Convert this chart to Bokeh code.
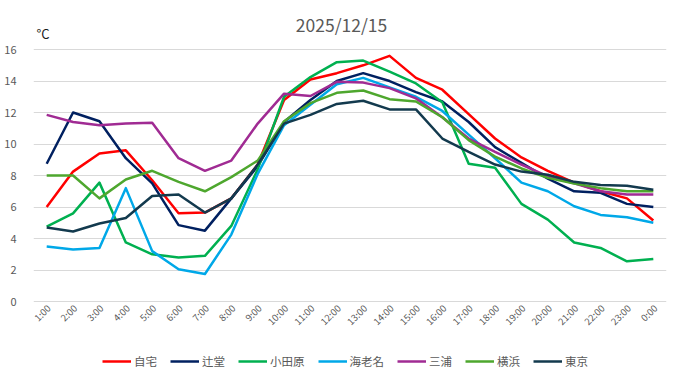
from bokeh.plotting import figure
from bokeh.models import Legend, LegendItem, Label, FixedTicker, FactorRange, Range1d
from bokeh.core.properties import value
from bokeh.embed import file_html
from bokeh.resources import INLINE
from math import pi

hours = ["1:00", "2:00", "3:00", "4:00", "5:00", "6:00", "7:00", "8:00", "9:00", "10:00",
         "11:00", "12:00", "13:00", "14:00", "15:00", "16:00", "17:00", "18:00", "19:00",
         "20:00", "21:00", "22:00", "23:00", "0:00"]

jitaku = [6.0, 8.25, 9.4, 9.6, 7.7, 5.6, 5.65, 6.55, 8.7, 12.8, 14.1, 14.5, 15.0, 15.6, 14.2,
          13.45, 11.9, 10.35, 9.15, 8.3, 7.55, 7.0, 6.55, 5.15]
tsujido = [8.75, 12.0, 11.45, 9.1, 7.5, 4.85, 4.5, 6.55, 8.6, 11.4, 12.8, 14.0, 14.5, 14.0, 13.3,
           12.7, 11.4, 9.8, 8.8, 7.8, 7.0, 6.9, 6.2, 6.0]
odawara = [4.75, 5.6, 7.55, 3.75, 3.0, 2.8, 2.9, 4.8, 8.4, 13.0, 14.25, 15.2, 15.3, 14.6, 13.85,
           12.65, 8.75, 8.5, 6.2, 5.2, 3.75, 3.4, 2.55, 2.7]
ebina = [3.5, 3.3, 3.4, 7.2, 3.2, 2.05, 1.75, 4.25, 8.1, 11.2, 12.5, 13.8, 14.2, 13.6, 13.0,
         12.1, 10.6, 9.1, 7.55, 7.0, 6.05, 5.5, 5.35, 5.0]
miura = [11.85, 11.4, 11.2, 11.3, 11.35, 9.1, 8.3, 8.95, 11.3, 13.2, 13.05, 13.95, 13.9, 13.55,
         12.9, 11.7, 10.35, 9.5, 8.7, 7.95, 7.5, 7.0, 6.8, 6.8]
yokohama = [8.0, 8.0, 6.55, 7.75, 8.3, 7.6, 7.0, 7.9, 8.95, 11.45, 12.6, 13.25, 13.4, 12.85, 12.7,
            11.7, 10.25, 9.2, 8.45, 7.85, 7.5, 7.2, 7.0, 7.0]
tokyo = [4.7, 4.45, 4.95, 5.3, 6.7, 6.8, 5.65, 6.55, 8.7, 11.3, 11.85, 12.55, 12.75, 12.2, 12.2,
         10.35, 9.5, 8.7, 8.25, 8.05, 7.6, 7.4, 7.35, 7.1]

names = ["自宅", "辻堂", "小田原", "海老名", "三浦", "横浜", "東京"]
series = [jitaku, tsujido, odawara, ebina, miura, yokohama, tokyo]
colors = ["#FF0000", "#002060", "#00B050", "#00A8E8", "#A02B93", "#4EA72E", "#133A4E"]
y_ticks = [0, 2, 4, 6, 8, 10, 12, 14, 16]
title_text = "2025/12/15"
unit_text = "°C"

FONT = "Noto Sans CJK JP"
GRAY = "#595959"

p = figure(frame_width=633, frame_height=367,
           x_range=FactorRange(*hours, range_padding=0),
           y_range=Range1d(-4.825, 18.48), output_backend="svg", toolbar_location=None,
           min_border_left=33, min_border_right=13, min_border_top=10, min_border_bottom=0)
p.outline_line_color = None
p.background_fill_color = "white"
p.border_fill_color = "white"

p.xgrid.grid_line_color = None
p.ygrid.grid_line_color = "#D9D9D9"
p.ygrid.grid_line_width = 1
p.yaxis.ticker = FixedTicker(ticks=y_ticks)
p.yaxis.axis_line_color = None
p.yaxis.major_tick_line_color = None
p.yaxis.minor_tick_line_color = None
p.yaxis.major_label_text_font = FONT
p.yaxis.major_label_text_font_size = "11px"
p.yaxis.major_label_text_color = GRAY
p.yaxis.major_label_standoff = 11

p.xaxis.visible = False

# category labels, drawn through the categorical scale
p.text(x=hours, y=[-0.3] * len(hours), text=hours, angle=pi / 4,
       text_align="right", text_baseline="middle", x_offset=2,
       text_font=value(FONT), text_font_size="9.5px", text_color=GRAY)

items = []
for name, vals, col in zip(names, series, colors):
    r = p.line(hours, vals, line_color=col, line_width=2.5, line_join="round")
    items.append(LegendItem(label=name, renderers=[r]))

legend = Legend(items=items, orientation="horizontal", location=(69, 8),
                label_text_font=FONT, label_text_font_size="11.5px", label_text_color=GRAY,
                glyph_width=29, glyph_height=12, label_standoff=3, spacing=13,
                padding=2, margin=0, border_line_color=None, background_fill_alpha=0)
p.add_layout(legend, "center")

p.add_layout(Label(x=11.68, y=17.59, text=title_text, text_font=FONT,
                   text_font_size="17.5px", text_color=GRAY,
                   text_align="center", text_baseline="middle"))
p.add_layout(Label(x=0.11, y=17.05, text=unit_text, text_font=FONT,
                   text_font_size="13px", text_color="#1a1a1a",
                   text_align="left", text_baseline="middle"))

open("out.html", "w").write(file_html(p, INLINE))
